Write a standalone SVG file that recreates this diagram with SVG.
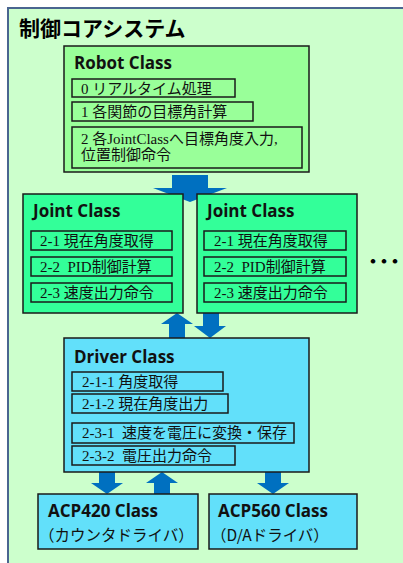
<svg xmlns="http://www.w3.org/2000/svg" width="403" height="563" viewBox="0 0 403 563">
<style>
.title{font-family:"Noto Sans CJK JP",sans-serif;font-weight:700;font-size:21px;fill:#000}
.cls{font-family:"Open Sans","Noto Sans CJK JP",sans-serif;font-weight:700;font-size:17px;fill:#111}
.item{font-family:"Liberation Serif","Noto Sans CJK JP",serif;font-size:15px;fill:#111}
.acp2{font-family:"Noto Sans CJK JP",sans-serif;font-size:15.5px;fill:#111}
.box{stroke:#1a1a1a;stroke-width:1.5}
.sub{fill:none;stroke:#1a1a1a;stroke-width:1.5}
.arr{fill:#0070c0}
.robot{fill:#99ff99}
.joint{fill:#33ff99}
.drv{fill:#62e0fa}
</style>
<rect width="403" height="563" fill="#ffffff"/>
<g id="frame">
<rect x="8" y="8" width="430" height="580" fill="#ccffcc" stroke="#4a6590" stroke-width="2"/>
<text class="title" x="19" y="36">制御コアシステム</text>
</g>
<g id="connectors">
<polygon class="arr" points="172,175 208,175 208,188 227,188 190,202 153,188 172,188"/>
<polygon class="arr" points="177,313 193,324 185,324 185,338 169,338 169,324 161,324"/>
<polygon class="arr" points="203,312 219,312 219,326 226,326 210,338 194,326 203,326"/>
<polygon class="arr" points="99,472 115,472 115,483 123,483 107,494 91,483 99,483"/>
<polygon class="arr" points="162,472 178,483 170,483 170,494 154,494 154,483 146,483"/>
<polygon class="arr" points="265,472 281,472 281,483 289,483 273,494 257,483 265,483"/>
</g>
<g id="robot">
<rect class="box robot" x="64" y="46" width="245" height="126"/>
<text class="cls" x="74" y="69">Robot Class</text>
<rect class="sub" x="72" y="79" width="163" height="18"/>
<text class="item" x="81" y="94">0 リアルタイム処理</text>
<rect class="sub" x="72" y="102" width="181" height="19"/>
<text class="item" x="81" y="117">1 各関節の目標角計算</text>
<rect class="sub" x="72" y="127" width="230" height="41"/>
<text class="item" x="81" y="144">2 各JointClassへ目標角度入力,</text>
<text class="item" x="81" y="160">位置制御命令</text>
</g>
<g id="joint1">
<rect class="box joint" x="23" y="194" width="160" height="119"/>
<text class="cls" x="33" y="217">Joint Class</text>
<rect class="sub" x="31" y="231" width="141" height="19"/>
<text class="item" x="40" y="246">2-1 現在角度取得</text>
<rect class="sub" x="31" y="257" width="141" height="19"/>
<text class="item" x="40" y="272" xml:space="preserve">2-2  PID制御計算</text>
<rect class="sub" x="31" y="283" width="141" height="19"/>
<text class="item" x="40" y="298">2-3 速度出力命令</text>
</g>
<g id="joint2">
<rect class="box joint" x="197" y="194" width="160" height="119"/>
<text class="cls" x="207" y="217">Joint Class</text>
<rect class="sub" x="204" y="231" width="142" height="19"/>
<text class="item" x="214" y="246">2-1 現在角度取得</text>
<rect class="sub" x="204" y="257" width="142" height="19"/>
<text class="item" x="214" y="272" xml:space="preserve">2-2  PID制御計算</text>
<rect class="sub" x="204" y="283" width="142" height="19"/>
<text class="item" x="214" y="298">2-3 速度出力命令</text>
</g>
<g id="more">
<text x="364" y="268" font-family="Noto Sans CJK JP, sans-serif" font-weight="700" font-size="18" letter-spacing="-7" fill="#000">・・・</text>
</g>
<g id="driver">
<rect class="box drv" x="64" y="338" width="245" height="134"/>
<text class="cls" x="74" y="363">Driver Class</text>
<rect class="sub" x="72" y="372" width="151" height="19"/>
<text class="item" x="82" y="387">2-1-1 角度取得</text>
<rect class="sub" x="72" y="394" width="156" height="19"/>
<text class="item" x="82" y="409">2-1-2 現在角度出力</text>
<rect class="sub" x="72" y="423" width="222" height="20"/>
<text class="item" x="82" y="438" font-size="14.5" xml:space="preserve">2-3-1  速度を電圧に変換・保存</text>
<rect class="sub" x="72" y="446" width="163" height="19"/>
<text class="item" x="82" y="461" xml:space="preserve">2-3-2  電圧出力命令</text>
</g>
<g id="acp420">
<rect class="box drv" x="38" y="494" width="160" height="55"/>
<text class="cls" x="48" y="517">ACP420 Class</text>
<text class="acp2" x="39" y="541">（カウンタドライバ）</text>
</g>
<g id="acp560">
<rect class="box drv" x="209" y="494" width="148" height="55"/>
<text class="cls" x="218" y="517">ACP560 Class</text>
<text class="acp2" x="211" y="541">（D/Aドライバ）</text>
</g>
</svg>
